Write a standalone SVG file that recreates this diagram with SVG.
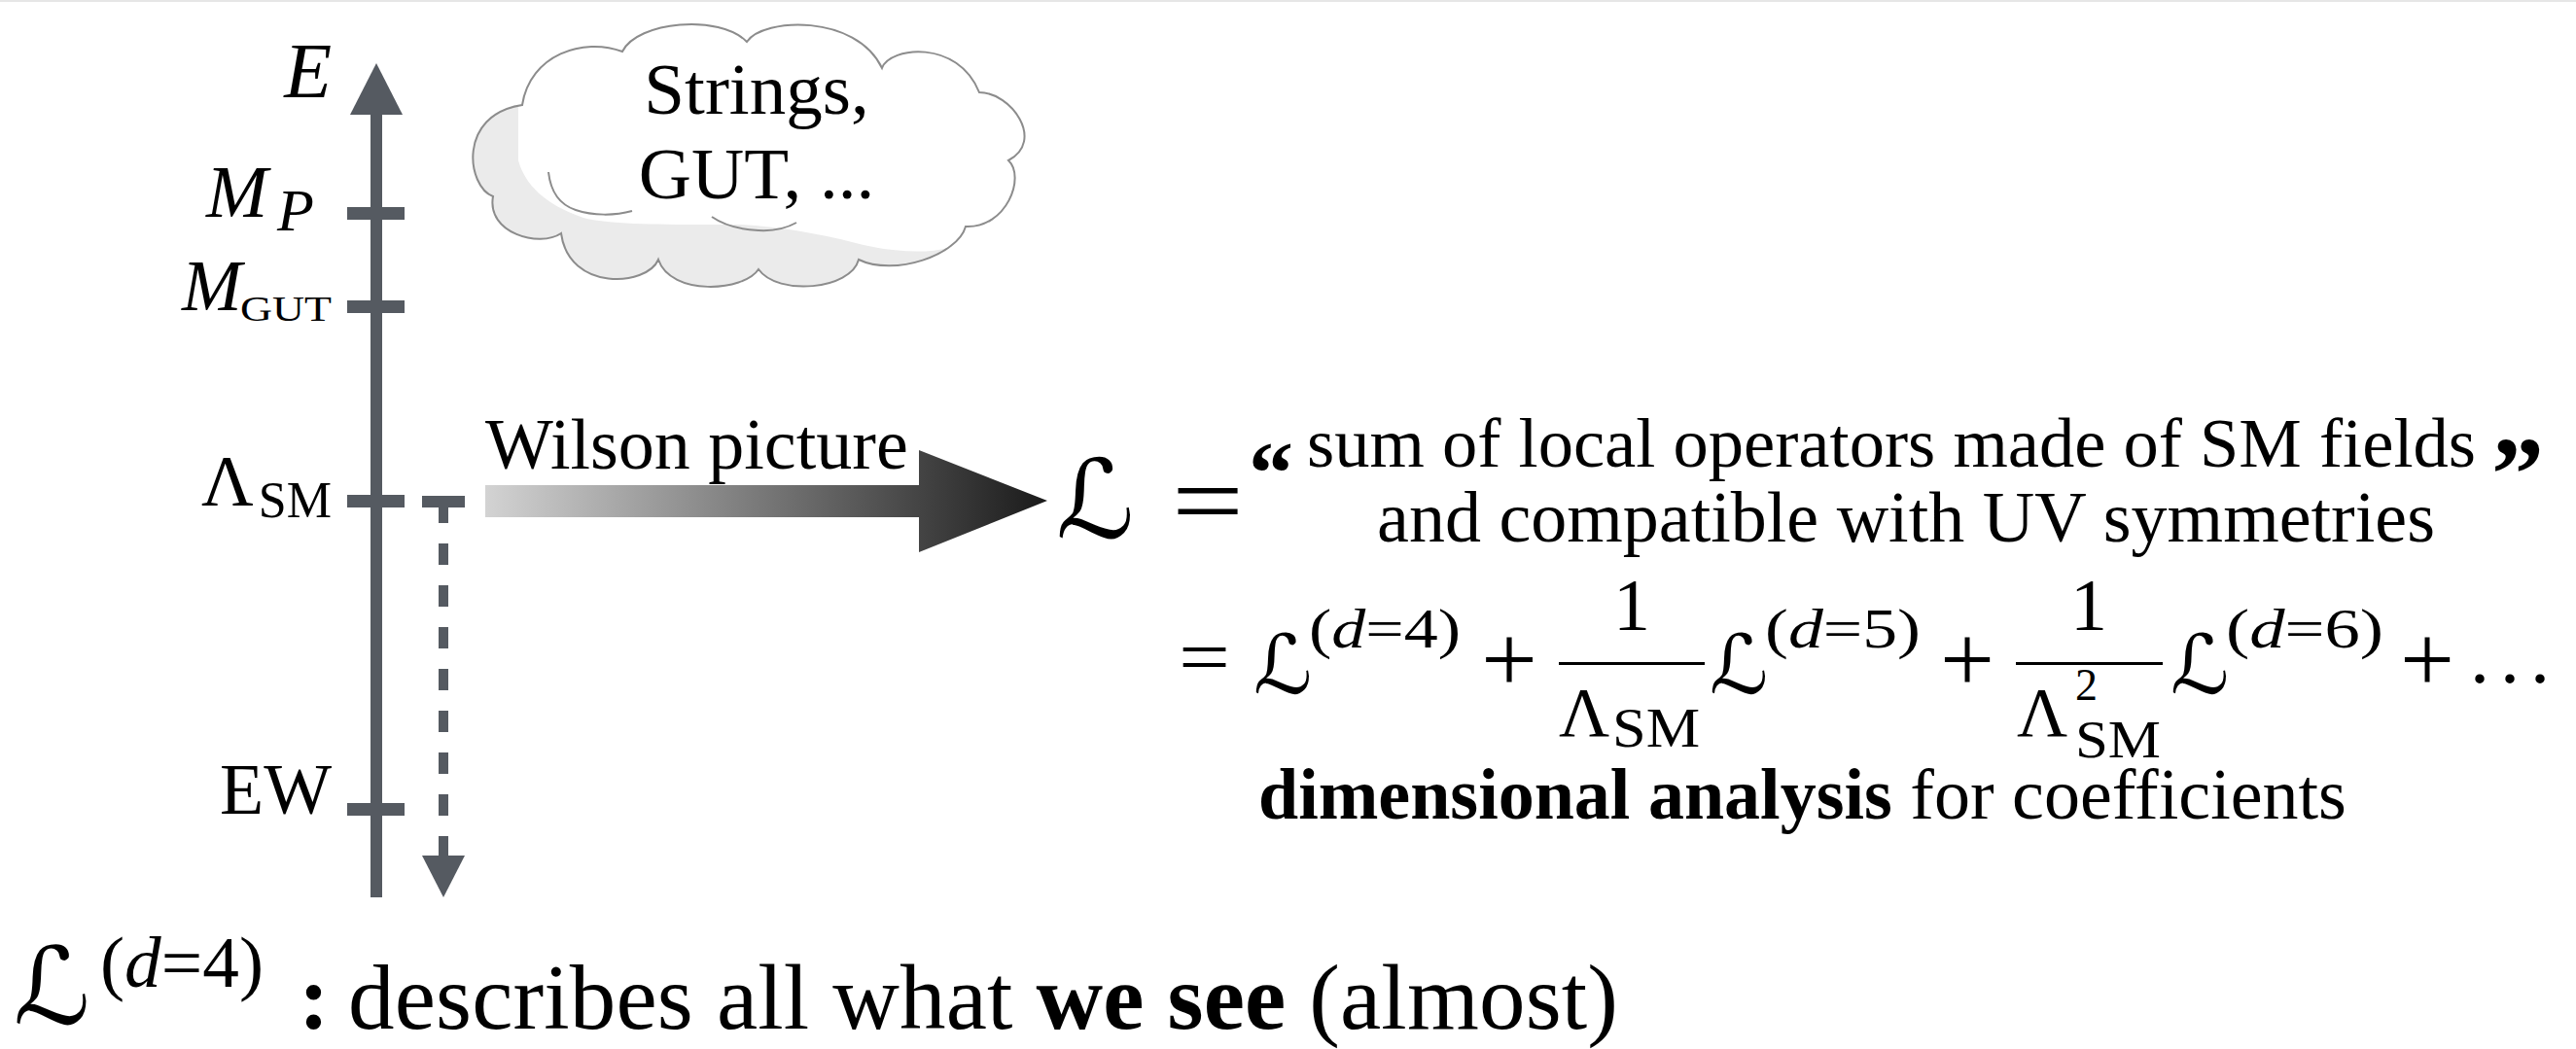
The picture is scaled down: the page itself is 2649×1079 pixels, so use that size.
<svg xmlns="http://www.w3.org/2000/svg" width="2649" height="1079" viewBox="0 0 2649 1079">
<style>
.t{font-family:"Liberation Serif","Times New Roman",serif;fill:#000}
.i{font-style:italic}
.b{font-weight:bold}
.cal{font-family:"DejaVu Serif","DejaVu Sans",serif;fill:#000}
.ax{fill:#555a61}
</style>
<defs>
<linearGradient id="wg" gradientUnits="userSpaceOnUse" x1="499" y1="0" x2="1077" y2="0">
<stop offset="0" stop-color="#d3d3d3"/>
<stop offset="1" stop-color="#1a1a1a"/>
</linearGradient>
<path id="cloudShape" d="M537,108 C545,56 600,38 640,53 C655,22 740,14 768,43 C785,18 880,14 907,70 C915,48 985,40 1007,95 C1040,95 1075,145 1037,165 C1055,182 1035,235 993,233 C985,262 920,285 883,267 C875,298 800,305 780,277 C765,300 690,305 677,267 C665,295 585,300 577,240 C555,255 500,240 507,202 C480,192 470,118 537,108 Z"/>
<clipPath id="cloudClip"><use href="#cloudShape"/></clipPath>
</defs>
<rect x="0" y="0" width="2649" height="1079" fill="#fff"/>
<rect x="0" y="0" width="2649" height="2" fill="#e6e6e6"/>

<g id="energy-axis">
<rect class="ax" x="381" y="112" width="12" height="811"/>
<polygon class="ax" points="360,118 414,118 387,65"/>
<rect class="ax" x="357" y="213" width="59" height="13"/>
<rect class="ax" x="357" y="309" width="59" height="13"/>
<rect class="ax" x="357" y="509" width="59" height="13"/>
<rect class="ax" x="357" y="826" width="59" height="13"/>
<text class="t i" x="341" y="100" font-size="80" text-anchor="end">E</text>
<text class="t i" x="212" y="223" font-size="76">M</text>
<text class="t i" x="285" y="237" font-size="62">P</text>
<text class="t i" x="187" y="319" font-size="74">M</text>
<text class="t" x="247" y="330" font-size="36" textLength="94" lengthAdjust="spacingAndGlyphs">GUT</text>
<text class="t" x="207" y="520" font-size="74">Λ</text>
<text class="t" x="341" y="532" font-size="52" text-anchor="end">SM</text>
<text class="t" x="341" y="837" font-size="74" text-anchor="end">EW</text>
</g>

<g id="cloud">
<use href="#cloudShape" fill="#ebebeb"/>
<path clip-path="url(#cloudClip)" fill="#fff" d="M533,0 L533,165 C540,190 560,210 600,224 C630,232 700,231 760,231 C800,233 840,240 880,250 C910,258 950,262 975,255 C990,248 1000,238 1010,235 L1100,235 L1100,0 Z"/>
<use href="#cloudShape" fill="none" stroke="#8c8c8c" stroke-width="2"/>
<path d="M564,177 C566,195 574,210 592,216 C610,222 632,222 650,217" fill="none" stroke="#8c8c8c" stroke-width="2"/>
<path d="M732,223 C745,232 760,236 780,237 C798,238 810,234 819,229" fill="none" stroke="#8c8c8c" stroke-width="2"/>
<text class="t" x="778" y="117" font-size="75" text-anchor="middle">Strings,</text>
<text class="t" x="778" y="204" font-size="75" text-anchor="middle">GUT, ...</text>
</g>

<g id="connectors">
<g id="wilson-arrow">
<polygon fill="url(#wg)" points="499,499 945,499 945,463 1077,515 945,568 945,532 499,532"/>
<text class="t" x="499" y="482" font-size="74">Wilson picture</text>
</g>
<g id="rg-flow-arrow">
<rect class="ax" x="434" y="510" width="44" height="12"/>
<line x1="456" y1="516" x2="456" y2="882" stroke="#555a61" stroke-width="10" stroke-dasharray="22 21"/>
<polygon class="ax" points="434,880 478,880 456,923"/>
</g>
</g>

<g id="lagrangian">
<text class="cal" x="1086" y="553" font-size="112">ℒ</text>
<text class="t" x="1205" y="551" font-size="108" textLength="74" lengthAdjust="spacingAndGlyphs">=</text>
<text class="t b" x="1284" y="517" font-size="92">“</text>
<text class="t" x="1344" y="480" font-size="72.5">sum of local operators made of SM fields</text>
<text class="t b" x="2562" y="524" font-size="108">”</text>
<text class="t" x="1960" y="557" font-size="74" text-anchor="middle">and compatible with UV symmetries</text>
</g>

<g id="expansion">
<text class="t" x="1212" y="703" font-size="80" textLength="53" lengthAdjust="spacingAndGlyphs">=</text>
<text class="cal" x="1289" y="713" font-size="84">ℒ</text>
<text class="t" x="1346" y="666" font-size="56" textLength="156" lengthAdjust="spacingAndGlyphs">(<tspan class="i">d</tspan>=4)</text>
<text class="t" x="1523" y="712" font-size="100" textLength="58" lengthAdjust="spacingAndGlyphs">+</text>
<rect x="1603" y="681" width="150" height="3" fill="#000"/>
<text class="t" x="1678" y="648" font-size="76" text-anchor="middle">1</text>
<text class="t" x="1603" y="757" font-size="72">Λ</text>
<text class="t" x="1658" y="768" font-size="56" textLength="90" lengthAdjust="spacingAndGlyphs">SM</text>
<text class="cal" x="1758" y="713" font-size="84">ℒ</text>
<text class="t" x="1815" y="666" font-size="56" textLength="160" lengthAdjust="spacingAndGlyphs">(<tspan class="i">d</tspan>=5)</text>
<text class="t" x="1995" y="712" font-size="100" textLength="56" lengthAdjust="spacingAndGlyphs">+</text>
<rect x="2073" y="681" width="151" height="3" fill="#000"/>
<text class="t" x="2148" y="648" font-size="76" text-anchor="middle">1</text>
<text class="t" x="2074" y="757" font-size="72">Λ</text>
<text class="t" x="2134" y="720" font-size="46">2</text>
<text class="t" x="2134" y="779" font-size="54" textLength="88" lengthAdjust="spacingAndGlyphs">SM</text>
<text class="cal" x="2232" y="713" font-size="84">ℒ</text>
<text class="t" x="2289" y="666" font-size="56" textLength="162" lengthAdjust="spacingAndGlyphs">(<tspan class="i">d</tspan>=6)</text>
<text class="t" x="2468" y="712" font-size="100" textLength="56" lengthAdjust="spacingAndGlyphs">+</text>
<text class="t" x="2540" y="702" font-size="80" textLength="82" lengthAdjust="spacing">...</text>
<text class="t" x="1294" y="842" font-size="74"><tspan class="b">dimensional analysis</tspan> for coefficients</text>
</g>

<g id="caption">
<text class="cal" x="14" y="1053" font-size="110">ℒ</text>
<text class="t" x="103" y="1015" font-size="74" textLength="168" lengthAdjust="spacingAndGlyphs">(<tspan class="i">d</tspan>=4)</text>
<text class="t b" x="307" y="1058" font-size="95">:</text>
<text class="t" x="358" y="1058" font-size="95" textLength="1306" lengthAdjust="spacing">describes all what <tspan class="b">we see</tspan> (almost)</text>
</g>
</svg>
